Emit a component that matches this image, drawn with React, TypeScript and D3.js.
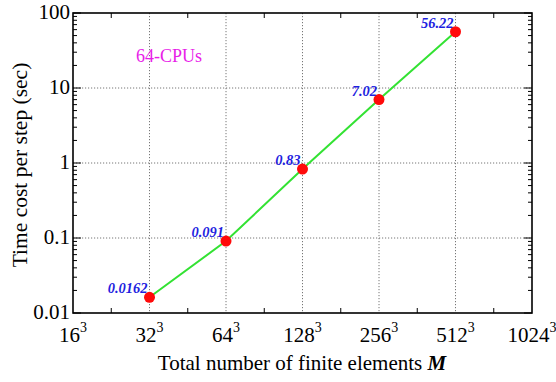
import React from "react";
import * as d3 from "d3";

const xExponents = [4, 5, 6, 7, 8, 9, 10];
const xTickBases = ["16", "32", "64", "128", "256", "512", "1024"];
const yTicks = [0.01, 0.1, 1, 10, 100];
const yTickLabels = ["0.01", "0.1", "1", "10", "100"];
const dataExponents = [5, 6, 7, 8, 9];
const timeCost = [0.0162, 0.091, 0.83, 7.02, 56.22];
const valueLabels = ["0.0162", "0.091", "0.83", "7.02", "56.22"];

const W = 556, H = 382;
const L = 73, R = 532, T = 13, B = 313;

export default function App() {
  const x = d3.scaleLinear().domain([4, 10]).range([L, R]);
  const y = d3.scaleLog().domain([0.01, 100]).range([B, T]);
  const line = d3.line<number>().x((_, i) => x(dataExponents[i])).y((d) => y(d));

  const minorY: number[] = [];
  for (let e = -2; e < 2; e++) for (let k = 2; k <= 9; k++) minorY.push(k * Math.pow(10, e));
  const minorX = d3.range(4.5, 10, 1);
  const serif = "'Liberation Serif', 'Times New Roman', serif";

  return (
    <svg width={W} height={H} style={{ position: "absolute", left: 0, top: 0, background: "#fff" }} fontFamily={serif}>
      {/* grid */}
      {xExponents.slice(1, -1).map((e) => (
        <line key={"gx" + e} x1={x(e)} x2={x(e)} y1={T} y2={B} stroke="#777" strokeWidth={1} strokeDasharray="1.2,1.8" />
      ))}
      {yTicks.slice(1, -1).map((v) => (
        <line key={"gy" + v} x1={L} x2={R} y1={y(v)} y2={y(v)} stroke="#777" strokeWidth={1} strokeDasharray="1.2,1.8" />
      ))}
      {/* y ticks */}
      {minorY.map((v, i) => (
        <g key={"my" + i}>
          <line x1={L} x2={L + 4} y1={y(v)} y2={y(v)} stroke="#000" strokeWidth={1} />
          <line x1={R} x2={R - 4} y1={y(v)} y2={y(v)} stroke="#000" strokeWidth={1} />
        </g>
      ))}
      {yTicks.map((v) => (
        <g key={"ty" + v}>
          <line x1={L} x2={L + 8} y1={y(v)} y2={y(v)} stroke="#000" strokeWidth={1} />
          <line x1={R} x2={R - 8} y1={y(v)} y2={y(v)} stroke="#000" strokeWidth={1} />
        </g>
      ))}
      {/* x ticks */}
      {minorX.map((e) => (
        <g key={"mx" + e}>
          <line x1={x(e)} x2={x(e)} y1={B} y2={B - 5} stroke="#000" strokeWidth={1} />
          <line x1={x(e)} x2={x(e)} y1={T} y2={T + 5} stroke="#000" strokeWidth={1} />
        </g>
      ))}
      {/* frame */}
      <rect x={L} y={T} width={R - L} height={B - T} fill="none" stroke="#000" strokeWidth={1.6} />
      {/* y tick labels */}
      {yTicks.map((v, i) => (
        <text key={"yl" + v} x={L - 3} y={y(v) + 6} textAnchor="end" fontSize={21}>{yTickLabels[i]}</text>
      ))}
      {/* x tick labels */}
      {xExponents.map((e, i) => (
        <text key={"xl" + e} x={x(e)} y={342} textAnchor="middle" fontSize={21}>
          {xTickBases[i]}
          <tspan fontSize={14} dy={-10}>3</tspan>
        </text>
      ))}
      {/* axis titles */}
      <text x={302} y={370} textAnchor="middle" fontSize={21}>
        Total number of finite elements <tspan fontWeight="bold" fontStyle="italic">M</tspan>
      </text>
      <text transform={`translate(27,165) rotate(-90)`} textAnchor="middle" fontSize={21.5}>
        Time cost per step (sec)
      </text>
      <text x={136} y={62} fontSize={18} fill="#e81ee8">64-CPUs</text>
      {/* data */}
      <path d={line(timeCost) || ""} fill="none" stroke="#33e233" strokeWidth={2} />
      {timeCost.map((v, i) => (
        <circle key={"p" + i} cx={x(dataExponents[i])} cy={y(v)} r={5.5} fill="#ff0a0a" />
      ))}
      {timeCost.map((v, i) => (
        <text key={"vl" + i} x={x(dataExponents[i]) - 2} y={y(v) - 4} textAnchor="end" fontSize={14.5}
          fontWeight="bold" fontStyle="italic" fill="#1f1fe0">{valueLabels[i]}</text>
      ))}
    </svg>
  );
}
